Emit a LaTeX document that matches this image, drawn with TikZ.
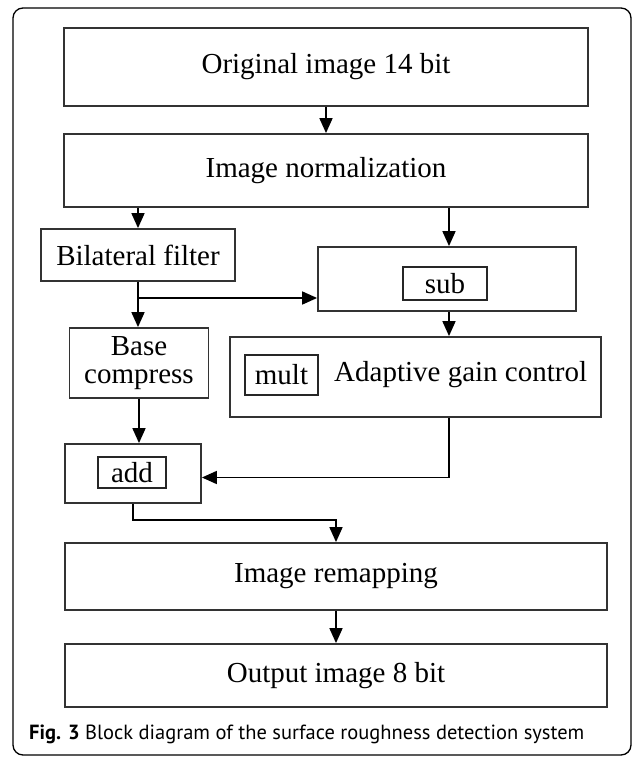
\documentclass[tikz,border=0pt]{standalone}
\usepackage{fontspec}
\setmainfont{Liberation Serif}
\newfontfamily\capfont{PT Sans}
\usetikzlibrary{arrows.meta, positioning, calc}

\begin{document}
\begin{tikzpicture}[x=1pt, y=-1pt, font=\fontsize{29}{28}\selectfont,
  block/.style={draw=black!80, line width=1.8pt, inner sep=0pt, align=center},
  tag/.style={draw=black!85, line width=1.8pt, inner sep=0pt},
  arr/.style={-{Triangle[length=15pt,width=13pt]}, line width=1.7pt}]
  \useasboundingbox (0,0) rectangle (634,757);

  % Outer frame
  \draw[line width=1.3pt, rounded corners=10pt] (13,8) rectangle (631,755);

  % Main chain
  \node[block, minimum width=524pt, minimum height=78pt] (orig) at (326,67) {Original image 14 bit};
  \node[block, minimum width=524pt, minimum height=73pt] (norm) at (326,170.5) {Image normalization};

  % Base layer branch
  \node[block, minimum width=194pt, minimum height=52pt] (bilat) at (138,255) {Bilateral filter};
  \node[block, minimum width=139pt, minimum height=70pt] (base) at (139,363) {Base\\compress};
  \node[block, minimum width=136pt, minimum height=59pt] (add) at (133,473.5) {};
  \node[tag, minimum width=68pt, minimum height=31pt] (addtag) at (132,472.5) {add};

  % Detail layer branch
  \node[block, minimum width=258pt, minimum height=64pt] (sub) at (447,279) {};
  \node[tag, minimum width=84pt, minimum height=33pt] (subtag) at (445,283.5) {sub};
  \node[block, minimum width=371pt, minimum height=80pt] (agc) at (415.5,377) {};
  \node[tag, minimum width=73pt, minimum height=40pt] (multtag) at (281.5,375) {mult};
  \node[anchor=west, inner sep=0pt] (agctext) at (334,375) {Adaptive gain control};

  % Output chain
  \node[block, minimum width=542pt, minimum height=67pt] (remap) at (336,576.5) {Image remapping};
  \node[block, minimum width=542pt, minimum height=63pt] (out) at (336,675.5) {Output image 8 bit};

  % Connections
  \coordinate (split) at (bilat.south |- 0,298);
  \draw[arr] (orig) -- (norm);
  \draw[arr] (norm.south -| bilat.north) -- (bilat.north);
  \draw[arr] (norm.south -| 449,0) -- (sub.north -| 449,0);
  \draw[arr] (bilat.south) -- (bilat.south |- base.north);
  \draw[arr] (split) -- (split -| sub.west);
  \draw[arr] (sub.south -| 449,0) -- (agc.north -| 449,0);
  \draw[arr] (base.south) -- (base.south |- add.north);
  \draw[arr] (agc.south -| 449,0) |- ($(add.east)+(0,4)$);
  \draw[arr] (add.south) -- ++(0,16) -| (remap.north);
  \draw[arr] (remap) -- (out);

  % Caption
  \node[anchor=west, inner sep=0pt, font=\capfont\fontsize{20.5}{24}\selectfont] (caption) at (29,734)
    {\textbf{Fig. 3} Block diagram of the surface roughness detection system};
\end{tikzpicture}
\end{document}
